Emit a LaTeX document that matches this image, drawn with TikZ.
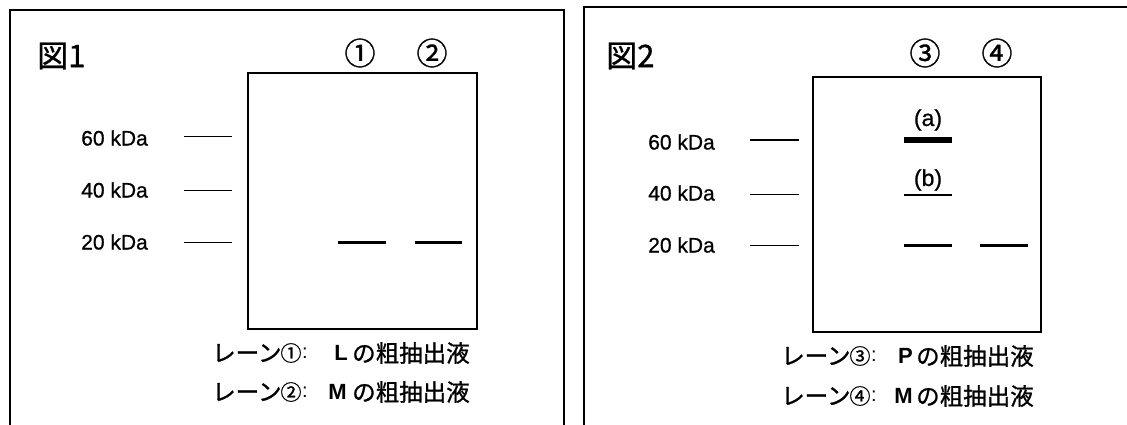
\documentclass[tikz,border=0pt]{standalone}
\usepackage{fontspec}
\setmainfont[FakeBold=0.8]{Liberation Sans}
\newfontfamily\jp[FakeBold=1]{Noto Sans CJK JP}
\newfontfamily\lat{Liberation Sans}
\begin{document}
\begin{tikzpicture}[x=1pt,y=-1pt,
  frame/.style={line width=1.8pt},
  gel/.style={line width=2.2pt},
  marker/.style={line width=1.4pt},
  band/.style={line width=3pt},
  kda/.style={font=\fontsize{21}{24}\selectfont, inner sep=0pt, anchor=east},
  lane/.style={font=\jp\fontsize{31}{34}\selectfont, inner sep=0pt},
  fig/.style={font=\jp\fontsize{31}{34}\selectfont, inner sep=0pt, anchor=west},
  captxt/.style={font=\jp\fontsize{23.5}{26}\selectfont, inner sep=0pt, anchor=west},
  capnum/.style={font=\jp\fontsize{21}{26}\selectfont, inner sep=0pt},
  capcolon/.style={font=\lat\fontsize{20}{24}\selectfont, inner sep=0pt, anchor=west},
  capbold/.style={font=\lat\bfseries\fontsize{22}{26}\selectfont, inner sep=0pt, anchor=east},
  lbl/.style={font=\fontsize{23}{26}\selectfont, inner sep=0pt},
]
\useasboundingbox (0,0) rectangle (1127,425);
\clip (0,0) rectangle (1127,425);
\fill[white] (0,0) rectangle (1127,425);
% panel frames
\draw[frame] (10,440) -- (10,10) -- (564,10) -- (564,440);
\draw[frame] (584,440) -- (584,7) -- (1140,7);

% ---------- Figure 1 ----------
\node[fig] (f1) at (37,56) {図1};
\node[lane] (l1) at (360,53) {①};
\node[lane] (l2) at (432,53) {②};
\draw[gel] (248,73) rectangle (477,329);
\node[kda] (m60a) at (148,138) {60 kDa};
\node[kda] (m40a) at (148,190) {40 kDa};
\node[kda] (m20a) at (148,242) {20 kDa};
\draw[marker] (184,136.7) -- (232,136.7);
\draw[marker] (184,190.7) -- (232,190.7);
\draw[marker] (184,242.7) -- (232,242.7);
\draw[band] (338,242.7) -- (386,242.7);
\draw[band] (415,242.7) -- (462,242.7);
\node[captxt] (c1a) at (212,353) {レーン};
\node[capnum] (c1n) at (291,353) {①};
\node[capcolon] (c1p) at (302,353) {:};
\node[capbold] (c1b) at (348,353) {L};
\node[captxt] (c1c) at (352,353) {の粗抽出液};
\node[captxt] (c2a) at (212,392) {レーン};
\node[capnum] (c2n) at (291,392) {②};
\node[capcolon] (c2p) at (302,392) {:};
\node[capbold] (c2b) at (347,392) {M};
\node[captxt] (c2c) at (352,392) {の粗抽出液};

% ---------- Figure 2 ----------
\node[fig] (f2) at (606,56) {図2};
\node[lane] (l3) at (925,53) {③};
\node[lane] (l4) at (997,53) {④};
\draw[gel] (813,77) rectangle (1041,332);
\node[kda] (m60b) at (715,142) {60 kDa};
\node[kda] (m40b) at (715,193) {40 kDa};
\node[kda] (m20b) at (715,245) {20 kDa};
\draw[marker] (750,140) -- (799,140);
\draw[marker] (750,194.5) -- (799,194.5);
\draw[marker] (750,245.7) -- (799,245.7);
\draw[line width=5.5pt] (904,140) -- (952,140);
\draw[line width=2pt] (904,194.5) -- (952,194.5);
\draw[band] (904,245.7) -- (952,245.7);
\draw[band] (980,245.7) -- (1028,245.7);
\node[lbl] (ta) at (928,120) {(a)};
\node[lbl] (tb) at (928,180) {(b)};
\node[captxt] (c3a) at (781,356) {レーン};
\node[capnum] (c3n) at (860,356) {③};
\node[capcolon] (c3p) at (871,356) {:};
\node[capbold] (c3b) at (913,356) {P};
\node[captxt] (c3c) at (916,356) {の粗抽出液};
\node[captxt] (c4a) at (781,396) {レーン};
\node[capnum] (c4n) at (860,396) {④};
\node[capcolon] (c4p) at (871,396) {:};
\node[capbold] (c4b) at (913,396) {M};
\node[captxt] (c4c) at (916,396) {の粗抽出液};
\end{tikzpicture}
\end{document}
